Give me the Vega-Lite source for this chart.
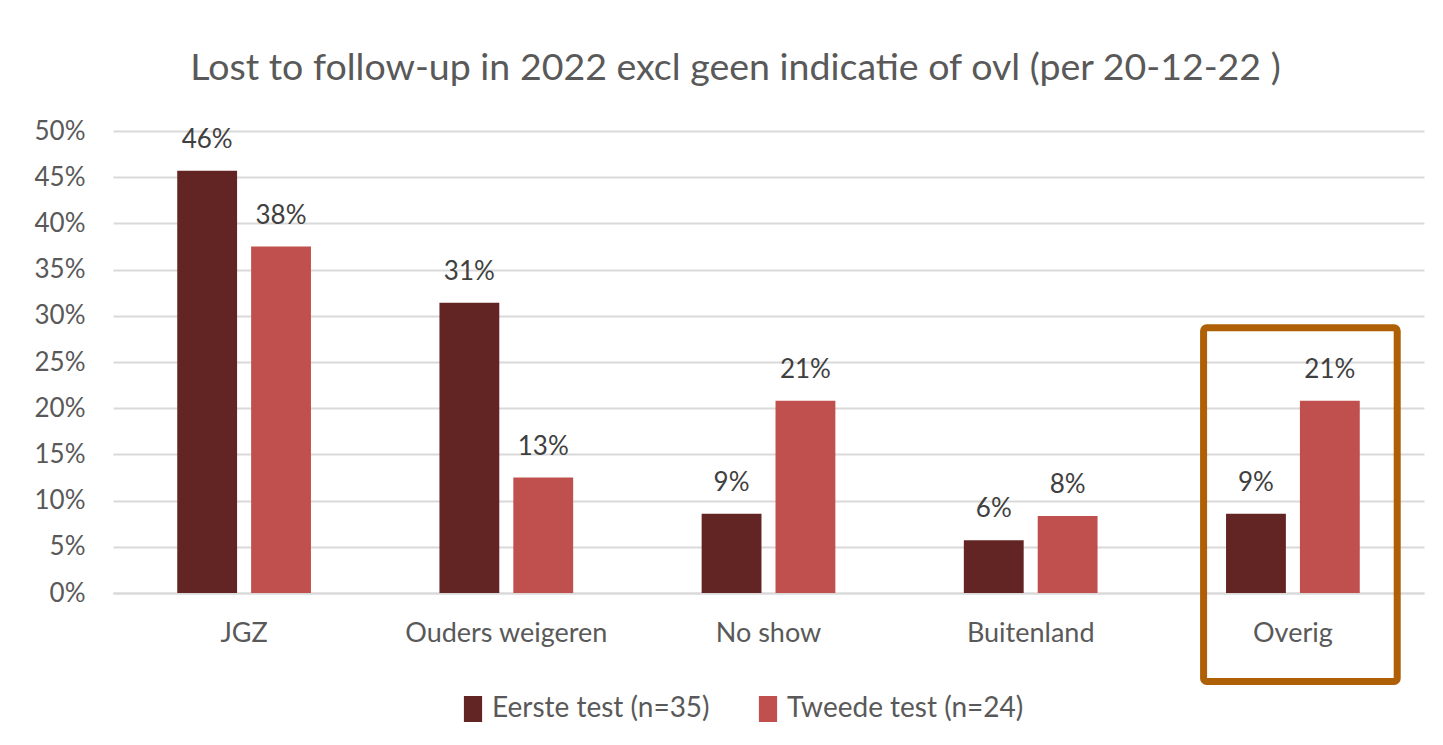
{
  "$schema": "https://vega.github.io/schema/vega-lite/v6.json",
  "autosize": "none",
  "width": 1311,
  "height": 462,
  "padding": {"left": 113, "top": 131, "right": 19, "bottom": 152},
  "background": "white",
  "title": {
    "text": "Lost to follow-up in 2022 excl geen indicatie of ovl (per 20-12-22 )",
    "font": "Lato",
    "fontSize": 37.5,
    "fontWeight": "normal",
    "color": "#595959",
    "anchor": "middle",
    "baseline": "alphabetic",
    "offset": 1,
    "dx": -33
  },
  "data": {
    "values": [
      {"categorie": "JGZ", "serie": "Eerste test (n=35)", "waarde": 0.457},
      {"categorie": "JGZ", "serie": "Tweede test (n=24)", "waarde": 0.375},
      {"categorie": "Ouders weigeren", "serie": "Eerste test (n=35)", "waarde": 0.314},
      {"categorie": "Ouders weigeren", "serie": "Tweede test (n=24)", "waarde": 0.125},
      {"categorie": "No show", "serie": "Eerste test (n=35)", "waarde": 0.0857},
      {"categorie": "No show", "serie": "Tweede test (n=24)", "waarde": 0.208},
      {"categorie": "Buitenland", "serie": "Eerste test (n=35)", "waarde": 0.0571},
      {"categorie": "Buitenland", "serie": "Tweede test (n=24)", "waarde": 0.0833},
      {"categorie": "Overig", "serie": "Eerste test (n=35)", "waarde": 0.0857},
      {"categorie": "Overig", "serie": "Tweede test (n=24)", "waarde": 0.208}
    ]
  },
  "encoding": {
    "x": {
      "field": "categorie",
      "type": "nominal",
      "sort": ["JGZ", "Ouders weigeren", "No show", "Buitenland", "Overig"],
      "scale": {
        "domain": ["JGZ", "Ouders weigeren", "No show", "Buitenland", "Overig"],
        "paddingInner": 0.49,
        "paddingOuter": 0.245
      },
      "axis": {
        "title": null,
        "labelAngle": 0,
        "labelPadding": 27,
        "labelFontSize": 27,
        "labelLimit": 0,
        "ticks": false,
        "domain": true,
        "domainColor": "#D9D9D9",
        "domainWidth": 2,
        "grid": false
      }
    }
  },
  "layer": [
    {
      "mark": {"type": "bar"},
      "encoding": {
        "xOffset": {
          "field": "serie",
          "type": "nominal",
          "scale": {"paddingInner": 0.19, "paddingOuter": 0}
        },
        "y": {
          "field": "waarde",
          "type": "quantitative",
          "scale": {"domain": [0, 0.5], "nice": false, "zero": true},
          "axis": {
            "title": null,
            "values": [0, 0.05, 0.1, 0.15, 0.2, 0.25, 0.3, 0.35, 0.4, 0.45, 0.5],
            "format": ".0%",
            "labelPadding": 28,
            "ticks": false,
            "domain": false,
            "grid": true,
            "gridColor": "#D9D9D9",
            "gridWidth": 2
          }
        },
        "color": {
          "field": "serie",
          "type": "nominal",
          "scale": {
            "domain": ["Eerste test (n=35)", "Tweede test (n=24)"],
            "range": ["#632523", "#C0504D"]
          },
          "legend": {
            "title": null,
            "orient": "none",
            "direction": "horizontal",
            "legendX": 346,
            "legendY": 564,
            "symbolType": "M-0.7,-1H0.7V1H-0.7Z",
            "symbolSize": 676,
            "symbolStrokeWidth": 0,
            "labelFont": "Lato",
            "labelFontSize": 28,
            "labelColor": "#595959",
            "labelOffset": 5,
            "columnPadding": 44,
            "padding": 0,
            "labelLimit": 400
          }
        }
      }
    },
    {
      "mark": {
        "type": "text",
        "baseline": "alphabetic",
        "dy": -23,
        "font": "Lato",
        "fontSize": 26,
        "color": "#404040"
      },
      "encoding": {
        "xOffset": {
          "field": "serie",
          "type": "nominal",
          "scale": {"paddingInner": 0.19, "paddingOuter": 0}
        },
        "y": {"field": "waarde", "type": "quantitative"},
        "text": {"field": "waarde", "type": "quantitative", "format": ".0%"}
      }
    },
    {
      "data": {"values": [{"categorie": "Overig", "boven": 0.287, "onder": -0.0958}]},
      "mark": {
        "type": "bar",
        "filled": false,
        "stroke": "#AF5F05",
        "strokeWidth": 7,
        "cornerRadius": 3,
        "width": {"band": 1.448},
        "xOffset": 7.5,
        "clip": false
      },
      "encoding": {
        "y": {"field": "boven", "type": "quantitative"},
        "y2": {"field": "onder"}
      }
    }
  ],
  "config": {
    "view": {"stroke": null},
    "axis": {
      "labelFont": "Lato",
      "labelFontSize": 26,
      "labelColor": "#595959"
    }
  }
}
